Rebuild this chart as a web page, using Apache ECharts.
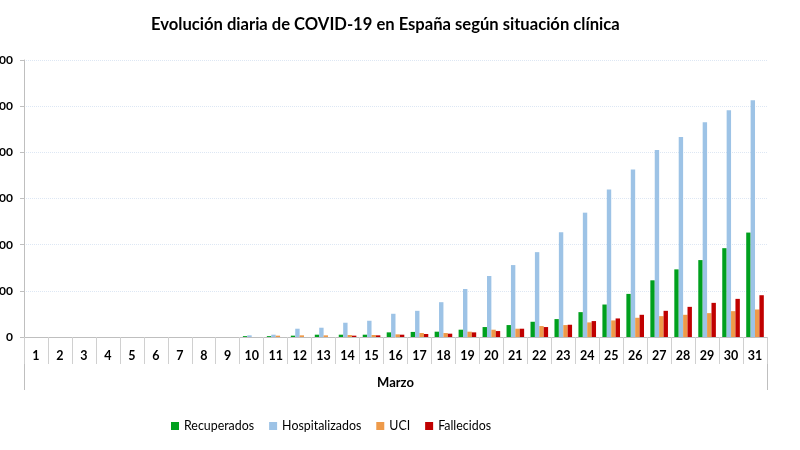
<!DOCTYPE html>
<html>
<head>
<meta charset="utf-8">
<script src="https://cdn.jsdelivr.net/npm/echarts@6/dist/echarts.min.js"></script>
<style>html,body{margin:0;padding:0;background:#fff;}#c{width:800px;height:450px;}</style>
</head>
<body>
<div id="c"></div>
<script>
const days = ['1','2','3','4','5','6','7','8','9','10','11','12','13','14','15','16','17','18','19','20','21','22','23','24','25','26','27','28','29','30','31'];
const recuperados = [0,0,0,0,0,0,0,0,0,190,190,290,500,500,500,1005,1100,1150,1580,2155,2585,3300,3880,5385,7035,9335,12280,14650,16660,19240,22620];
const hospitalizados = [0,0,0,0,0,0,0,0,0,360,500,1795,2010,3090,3520,5030,5670,7540,10400,13210,15580,18380,22690,26930,31950,36260,40500,43300,46530,49110,51270];
const uci = [0,0,0,0,0,0,0,0,0,0,290,360,360,430,430,575,860,860,1150,1580,1795,2370,2585,3160,3590,4165,4520,4810,5170,5600,5960];
const fallecidos = [0,0,0,0,0,0,0,0,0,0,0,0,0,290,360,500,650,720,1005,1290,1795,2155,2655,3450,4020,4810,5670,6530,7395,8260,9050];
const yTicks = [0,10000,20000,30000,40000,50000,60000];

const font = 'Lato, "Liberation Sans", sans-serif';
const chart = echarts.init(document.getElementById('c'));
function bar(name, data, color) {
  return {
    name: name, type: 'bar', data: data,
    barWidth: 4.4, barGap: '0%',
    itemStyle: { color: color },
    emphasis: { disabled: true }
  };
}
chart.setOption({
  animation: false,
  backgroundColor: '#fff',
  title: {
    text: 'Evolución diaria de COVID-19 en España según situación clínica',
    left: 146, top: 11,
    textStyle: { fontFamily: font, fontWeight: 'bold', fontSize: 16.6, color: '#000' }
  },
  legend: {
    bottom: 13, left: 166,
    itemWidth: 8, itemHeight: 8, itemGap: 15,
    icon: 'rect',
    textStyle: { fontFamily: font, fontSize: 12.4, color: '#000' },
    data: ['Recuperados','Hospitalizados','UCI','Fallecidos']
  },
  grid: { left: 24, right: 33, top: 60, bottom: 113, containLabel: false, outerBoundsMode: 'none' },
  xAxis: [{
    type: 'category', data: days, position: 'bottom',
    axisLine: { lineStyle: { color: '#bfbfbf', width: 1 } },
    axisTick: { show: true, interval: 0, length: 27, lineStyle: { color: '#d0d0d0' } },
    axisLabel: { interval: 0, margin: 12, fontFamily: font, fontWeight: 'bold', fontSize: 12.5, color: '#000' }
  }, {
    type: 'category', data: ['Marzo'], position: 'bottom', offset: 27,
    axisLine: { show: false },
    axisTick: { show: true, length: 26, lineStyle: { color: '#bfbfbf' } },
    axisLabel: { margin: 12, fontFamily: font, fontWeight: 'bold', fontSize: 13, color: '#000' }
  }],
  yAxis: {
    type: 'value', min: yTicks[0], max: yTicks[yTicks.length-1], interval: 10000,
    axisLine: { show: true, lineStyle: { color: '#bfbfbf' } },
    axisTick: { show: true, length: 4, lineStyle: { color: '#bfbfbf' } },
    axisLabel: { margin: 11, fontFamily: font, fontWeight: 'bold', fontSize: 12, color: '#000', formatter: function (v) { return String(v); } },
    splitLine: { lineStyle: { color: '#dde7f4', type: 'dotted' } }
  },
  series: [
    bar('Recuperados', recuperados, '#00a01e'),
    bar('Hospitalizados', hospitalizados, '#9dc3e6'),
    bar('UCI', uci, '#ee9a4a'),
    bar('Fallecidos', fallecidos, '#c00000')
  ]
});
</script>
</body>
</html>
